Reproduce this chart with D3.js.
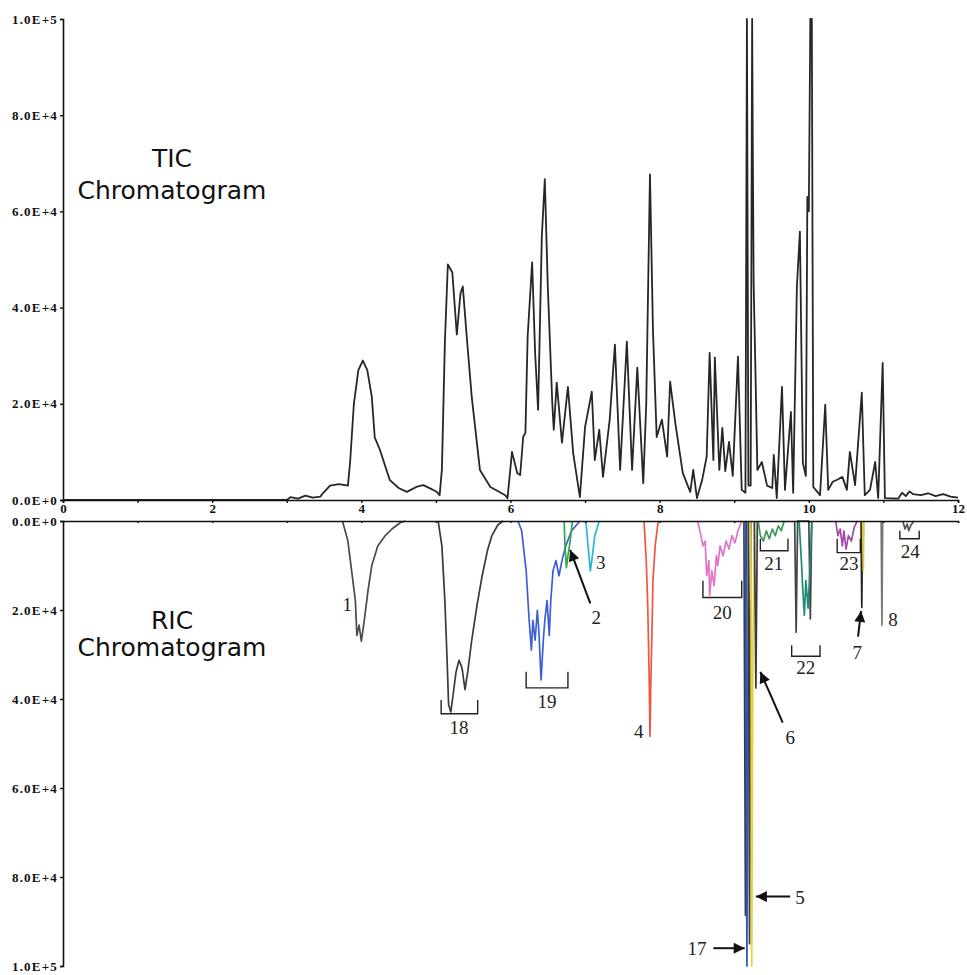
<!DOCTYPE html>
<html>
<head>
<meta charset="utf-8">
<script src="https://cdn.jsdelivr.net/npm/d3@7"></script>
<style>
  body { margin: 0; background: #fff; }
  svg { display: block; }
</style>
</head>
<body>
<svg id="chart" width="967" height="975"></svg>
<script>
// retention time (min), intensity
const ticData = [[0,0],[3.0,0],[3.05,600],[3.15,300],[3.25,900],[3.35,500],[3.45,700],[3.49,1500],[3.58,3000],[3.7,3300],[3.82,3000],
  [3.85,8000],[3.9,20000],[3.96,27000],[4.02,29000],[4.08,27000],[4.14,21500],[4.18,13000],[4.25,10400],[4.38,4200],[4.5,2500],
  [4.61,1700],[4.75,2800],[4.83,3100],[4.95,2200],[5.01,1700],[5.05,1000],[5.08,6250],[5.12,32700],[5.16,49000],[5.22,47300],
  [5.28,34400],[5.33,43000],[5.36,44400],[5.42,32700],[5.48,21500],[5.59,6250],[5.73,2700],[5.93,1000],[5.96,400],[6.02,10000],
  [6.09,5600],[6.13,5200],[6.17,13100],[6.2,14000],[6.23,34000],[6.29,49400],[6.33,30600],[6.37,18750],[6.42,54800],[6.46,66700],
  [6.5,44400],[6.56,20200],[6.58,14600],[6.62,24400],[6.69,11900],[6.77,23500],[6.84,9800],[6.93,600],[7.0,15200],[7.09,22500],
  [7.13,8300],[7.19,14600],[7.24,4800],[7.33,16700],[7.4,32300],[7.47,6250],[7.56,32900],[7.63,6250],[7.7,27500],[7.78,3500],
  [7.82,20000],[7.87,67700],[7.91,35400],[7.96,13100],[8.03,16700],[8.1,9000],[8.14,24600],[8.21,16000],[8.31,5600],[8.41,1700],
  [8.45,6250],[8.5,400],[8.57,4200],[8.63,9000],[8.67,30600],[8.72,8300],[8.74,29600],[8.8,6250],[8.84,15000],[8.88,6000],
  [8.93,12100],[8.98,5000],[9.05,29800],[9.1,2100],[9.15,1500],[9.17,100000],[9.19,3000],[9.22,3000],[9.24,100000],[9.25,70000],
  [9.26,45000],[9.28,30000],[9.31,6250],[9.37,7900],[9.44,3000],[9.51,2500],[9.53,9400],[9.57,400],[9.64,23500],[9.68,2100],
  [9.76,18300],[9.79,1500],[9.84,44400],[9.88,55800],[9.92,7700],[9.96,5000],[9.98,63000],[10.0,60000],[10.02,100000],[10.04,100000],
  [10.06,2700],[10.15,1000],[10.22,19800],[10.26,2100],[10.32,3800],[10.38,4200],[10.45,4800],[10.51,2100],[10.55,10000],[10.62,3100],
  [10.71,22300],[10.75,1000],[10.82,2100],[10.89,7900],[10.93,400],[10.99,28500],[11.02,400],[11.2,300],[11.25,1500],[11.3,800],
  [11.35,1800],[11.4,1200],[11.5,1000],[11.6,1400],[11.7,800],[11.8,1200],[11.9,700],[12,500]];

// reconstructed ion chromatograms (drawn downward)
const ric1 = [[3.75,200],[3.82,4500],[3.87,11200],[3.92,17900],[3.94,25700],[3.97,23400],[4.0,27000],[4.04,22300],[4.09,15600],
  [4.14,10000],[4.22,5600],[4.32,3300],[4.41,1800],[4.52,400],[4.59,0]];
const ric18 = [[5.03,0],[5.08,5600],[5.12,17900],[5.15,31300],[5.17,41300],[5.2,42900],[5.23,39100],[5.27,33900],[5.31,31300],
  [5.35,33000],[5.39,37900],[5.43,33500],[5.48,26800],[5.55,19000],[5.62,12300],[5.69,6700],[5.75,3300],[5.83,900],[5.9,0]];
const ric19 = [[6.1,0],[6.15,2200],[6.21,11200],[6.25,22300],[6.28,29000],[6.3,22300],[6.33,26800],[6.36,20100],[6.38,24600],
  [6.41,35700],[6.44,26800],[6.46,22300],[6.49,17900],[6.52,25700],[6.54,17900],[6.57,11200],[6.61,8900],[6.65,12300],
  [6.69,8900],[6.74,5600],[6.82,2200],[6.93,0]];
const ric2 = [[6.72,0],[6.73,5600],[6.75,10500],[6.77,7800],[6.8,4500],[6.83,0]];
const ric3 = [[7.01,0],[7.04,5600],[7.07,11200],[7.09,8900],[7.13,3300],[7.19,0]];
const ric4 = [[7.79,0],[7.82,8900],[7.84,19000],[7.86,35700],[7.87,48400],[7.88,37900],[7.9,22300],[7.91,13400],[7.94,5600],[7.98,0]];
const ric20 = [[8.51,0],[8.54,2200],[8.58,5600],[8.61,4500],[8.63,12300],[8.66,8900],[8.67,16700],[8.7,11200],[8.73,14500],
  [8.76,7800],[8.78,10000],[8.81,5600],[8.85,7800],[8.89,4500],[8.93,6300],[8.97,3300],[9.01,4900],[9.05,2200],[9.1,0]];
const ric5b = [[9.13,0],[9.15,88600],[9.16,0]];
const ric17 = [[9.15,0],[9.17,100000],[9.19,0]];
const ric5c = [[9.19,0],[9.205,95000],[9.22,0]];
const ric5 = [[9.21,0],[9.225,20000],[9.235,100000],[9.25,30000],[9.27,0]];
const ric6 = [[9.27,0],[9.29,37500],[9.31,0]];
const ric21 = [[9.32,0],[9.35,3300],[9.39,4500],[9.43,2200],[9.47,4000],[9.51,1800],[9.55,3300],[9.59,1100],[9.63,2200],[9.67,0]];
const ric22a = [[9.81,0],[9.83,25000],[9.85,0],[10.0,0],[10.02,22000],[10.04,0]];
const ric22 = [[9.87,0],[9.9,8900],[9.92,15600],[9.94,21200],[9.96,13400],[9.99,19600],[10.02,8900],[10.04,0]];
const ric23 = [[10.36,0],[10.39,3300],[10.42,1800],[10.45,5600],[10.47,2200],[10.5,6300],[10.53,3300],[10.57,4500],[10.61,1300],[10.65,0]];
const ric7 = [[10.7,0],[10.71,19400],[10.72,0]];
const ric7b = [[10.72,0],[10.73,11200],[10.74,0]];
const ric8 = [[10.97,0],[10.98,23400],[10.99,0]];
const ric24 = [[11.26,0],[11.29,1800],[11.32,700],[11.34,2200],[11.37,900],[11.41,0]];

const xTicks = [0,1,2,3,4,5,6,7,8,9,10,11,12];
const xTickLabels = ["0","","2","","4","","6","","8","","10","","12"];
const yTicks = [0,20000,40000,60000,80000,100000];
const yTickLabels = ["0.0E+0","2.0E+4","4.0E+4","6.0E+4","8.0E+4","1.0E+5"];

// peak labels: text, time, RIC intensity
const peakLabels = [["1",3.81,18750],["18",5.31,46400],["19",6.49,40600],["2",7.15,21700],["3",7.21,9200],["4",7.72,47300],
  ["20",8.84,20500],["21",9.53,9600],["22",9.96,32800],["23",10.54,9600],["24",11.36,6900],["6",9.75,48700],
  ["7",10.65,29500],["8",11.13,22100],["5",9.88,84600],["17",8.5,96000]];
// brackets: t0, t1, inner intensity, outer intensity
const brackets = [[5.07,5.56,40200,43300],[6.21,6.77,33900,37500],[8.58,9.1,13400,17200],[9.35,9.72,4000,6700],
  [9.77,10.15,27900,30400],[10.38,10.69,4000,7100],[11.22,11.48,2200,4000]];
// arrows: tail t, tail I, head t, head I
const arrows = [[7.07,18500,6.8,6500],[9.65,45300,9.35,33900],[10.66,26000,10.7,20200],[9.75,84400,9.29,84400],[8.72,96000,9.14,96000]];

const ricSeries = [
  [ric1,"#4a4a4a"],[ric18,"#3a3a3a"],[ric19,"#3d5ed6"],[ric2,"#2fa84a"],[ric3,"#2ab6d8"],[ric4,"#f2553f"],
  [ric20,"#e274c8"],[ric5b,"#3a3a3a"],[ric17,"#2f55c0"],[ric5c,"#3a3a3a"],[ric5,"#e9d23c"],[ric6,"#3a3a3a"],[ric21,"#3a9a55"],
  [ric22a,"#444"],[ric22,"#1f8c7a"],[ric23,"#a24aac"],[ric7,"#222"],[ric7b,"#d8c848"],[ric8,"#777"],[ric24,"#555"]
];

const buildChart = (svg_name) => {
  let chart = d3.select(svg_name);
  let margin = {left: 63, right: 9};
  let chart_width = +chart.attr("width");

  let x = d3.scaleLinear().domain([0,12]).range([margin.left, chart_width - margin.right]);
  let yTop = d3.scaleLinear().domain([0,100000]).range([500,19]);
  let yBot = d3.scaleLinear().domain([0,100000]).range([521,966]);

  chart.append("defs").append("marker")
    .attr("id","head")
    .attr("viewBox","0 0 10 10")
    .attr("refX",10).attr("refY",5)
    .attr("markerUnits","userSpaceOnUse")
    .attr("markerWidth",13).attr("markerHeight",11)
    .attr("orient","auto")
    .append("path").attr("d","M0,0L10,5L0,10z").attr("fill","#111");

  // traces
  let ticLine = d3.line().x((d) => x(d[0])).y((d) => yTop(d[1]));
  let ricLine = d3.line().x((d) => x(d[0])).y((d) => yBot(d[1]));

  chart.append("path")
    .datum(ticData)
    .attr("d", ticLine)
    .attr("fill","none")
    .attr("stroke","#262626")
    .attr("stroke-width",1.8)
    .attr("stroke-linejoin","round");

  chart.append("g").selectAll("path")
    .data(ricSeries)
    .enter().append("path")
      .attr("d", (d) => ricLine(d[0]))
      .attr("fill","none")
      .attr("stroke", (d) => d[1])
      .attr("stroke-width",1.7)
      .attr("stroke-linejoin","round");

  // axes
  let tickFont = (sel) => sel.selectAll("text")
    .attr("font-family","'Liberation Serif', serif")
    .attr("font-weight","bold")
    .attr("font-size",13)
    .attr("letter-spacing","1.2px")
    .attr("fill","#111");

  let xAxisTop = d3.axisBottom(x).tickValues(xTicks).tickSize(3).tickPadding(1)
    .tickFormat((d,i) => xTickLabels[i]);
  let gxTop = chart.append("g").attr("transform","translate(0,500)").call(xAxisTop);
  tickFont(gxTop);
  gxTop.selectAll("text").attr("letter-spacing","0px");

  let xAxisBot = d3.axisBottom(x).tickValues(xTicks).tickSize(2).tickFormat("");
  chart.append("g").attr("transform","translate(0,521)").call(xAxisBot);

  let yAxisTop = d3.axisLeft(yTop).tickValues(yTicks).tickSize(3).tickPadding(2)
    .tickFormat((d,i) => yTickLabels[i]);
  let gyTop = chart.append("g").attr("transform","translate(" + margin.left + ",0)").call(yAxisTop);
  tickFont(gyTop);

  let yAxisBot = d3.axisLeft(yBot).tickValues(yTicks).tickSize(3).tickPadding(2)
    .tickFormat((d,i) => yTickLabels[i]);
  let gyBot = chart.append("g").attr("transform","translate(" + margin.left + ",0)").call(yAxisBot);
  tickFont(gyBot);

  chart.selectAll(".domain").attr("stroke","#111").attr("stroke-width",1.6);
  chart.selectAll(".tick line").attr("stroke","#111").attr("stroke-width",1.4);

  // brackets under peak groups
  chart.append("g").selectAll("path")
    .data(brackets)
    .enter().append("path")
      .attr("d", (d) => "M" + x(d[0]) + "," + yBot(d[2]) + "V" + yBot(d[3]) + "H" + x(d[1]) + "V" + yBot(d[2]))
      .attr("fill","none")
      .attr("stroke","#222")
      .attr("stroke-width",1.4);

  // arrows
  chart.append("g").selectAll("line")
    .data(arrows)
    .enter().append("line")
      .attr("x1", (d) => x(d[0])).attr("y1", (d) => yBot(d[1]))
      .attr("x2", (d) => x(d[2])).attr("y2", (d) => yBot(d[3]))
      .attr("stroke","#111")
      .attr("stroke-width",2)
      .attr("marker-end","url(#head)");

  // peak numbers
  chart.append("g").selectAll("text")
    .data(peakLabels)
    .enter().append("text")
      .attr("x", (d) => x(d[1]))
      .attr("y", (d) => yBot(d[2]))
      .attr("dy","0.35em")
      .attr("text-anchor","middle")
      .attr("font-family","'Liberation Serif', serif")
      .attr("font-size",19)
      .attr("fill","#222")
      .text((d) => d[0]);

  // panel titles
  let titles = [["TIC",158],["Chromatogram",190],["RIC",620],["Chromatogram",647]];
  chart.append("g").selectAll("text")
    .data(titles)
    .enter().append("text")
      .attr("x",172)
      .attr("y", (d) => d[1])
      .attr("dy","0.35em")
      .attr("text-anchor","middle")
      .attr("font-family","'DejaVu Sans', sans-serif")
      .attr("font-size",25)
      .attr("fill","#111")
      .text((d) => d[0]);
}

buildChart("#chart");
</script>
</body>
</html>
